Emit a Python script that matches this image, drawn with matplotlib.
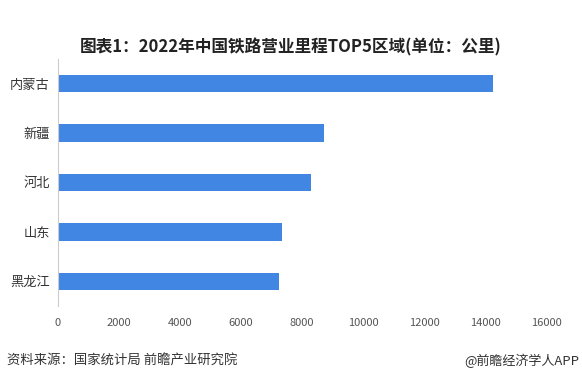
import matplotlib as mp
mp.use('Agg')
import matplotlib.pyplot as plt

plt.rcParams['font.family'] = ['Noto Sans CJK SC', 'DejaVu Sans']

regions = ['内蒙古', '新疆', '河北', '山东', '黑龙江']
mileage = [14260, 8720, 8300, 7340, 7250]
xticks = [0, 2000, 4000, 6000, 8000, 10000, 12000, 14000, 16000]

fig = plt.figure(figsize=(5.82, 3.83), dpi=100)
ax = fig.add_axes([58/582, 1-306/383, (546-58)/582, (306-59)/383])

pos = list(range(len(regions)))[::-1]
ax.barh(pos, mileage, height=0.35, color='#4286e3')
ax.set_yticks(pos)
ax.set_yticklabels(regions, fontsize=9.5, color='#333333')
ax.set_ylim(-0.5, len(regions) - 0.5)
ax.set_xlim(0, 16000)
ax.set_xticks(xticks)
ax.set_xticklabels([str(t) for t in xticks], fontsize=8, color='#555555')
ax.tick_params(axis='both', length=0)
ax.tick_params(axis='x', pad=9)
ax.tick_params(axis='y', pad=6)
for s in ['top', 'right', 'bottom']:
    ax.spines[s].set_visible(False)
ax.spines['left'].set_color('#cccccc')

fig.text(0.5, 1-47/383, '图表1：2022年中国铁路营业里程TOP5区域(单位：公里)',
         ha='center', va='center', fontsize=12, fontweight='bold', color='#222222')
fig.text(7/582, 1-361/383, '资料来源：国家统计局 前瞻产业研究院',
         ha='left', va='center', fontsize=9.6, color='#333333')
fig.text(579/582, 1-361/383, '@前瞻经济学人APP',
         ha='right', va='center', fontsize=9.4, color='#333333')

fig.savefig('out.png', dpi=100)
